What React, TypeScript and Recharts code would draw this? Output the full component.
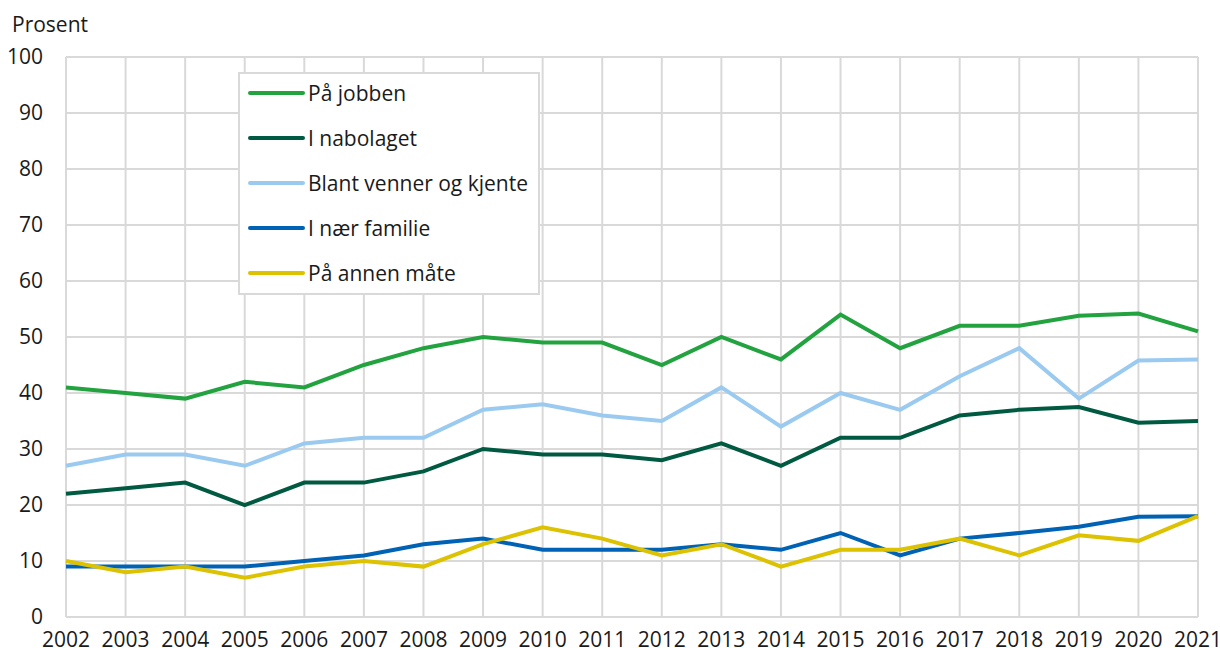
import { CartesianGrid, Legend, Line, LineChart, XAxis, YAxis } from "recharts";

const years = [
  "2002", "2003", "2004", "2005", "2006", "2007", "2008", "2009", "2010", "2011",
  "2012", "2013", "2014", "2015", "2016", "2017", "2018", "2019", "2020", "2021",
];

const paaJobben = [41, 40, 39, 42, 41, 45, 48, 50, 49, 49, 45, 50, 46, 54, 48, 52, 52, 53.8, 54.2, 51];
const iNabolaget = [22, 23, 24, 20, 24, 24, 26, 30, 29, 29, 28, 31, 27, 32, 32, 36, 37, 37.5, 34.7, 35];
const blantVenner = [27, 29, 29, 27, 31, 32, 32, 37, 38, 36, 35, 41, 34, 40, 37, 43, 48, 39, 45.8, 46];
const iNaerFamilie = [9, 9, 9, 9, 10, 11, 13, 14, 12, 12, 12, 13, 12, 15, 11, 14, 15, 16.1, 17.9, 18];
const paaAnnenMaate = [10, 8, 9, 7, 9, 10, 9, 13, 16, 14, 11, 13, 9, 12, 12, 14, 11, 14.6, 13.6, 18];

const yTicks = [0, 10, 20, 30, 40, 50, 60, 70, 80, 90, 100];

const series = [
  { key: "jobb", name: "På jobben", color: "#22a33f", values: paaJobben },
  { key: "nabo", name: "I nabolaget", color: "#005a41", values: iNabolaget },
  { key: "venner", name: "Blant venner og kjente", color: "#9bcaf0", values: blantVenner },
  { key: "familie", name: "I nær familie", color: "#0062b4", values: iNaerFamilie },
  { key: "annen", name: "På annen måte", color: "#dcc200", values: paaAnnenMaate },
];

const data = years.map((year, i) => {
  const row: Record<string, string | number> = { year };
  series.forEach((s) => {
    row[s.key] = s.values[i];
  });
  return row;
});

const FONT = "'Open Sans', 'Noto Sans', sans-serif";
const FONT_SIZE = 21;
const textColor = "#1a1a1a";
const gridColor = "#d9d9d9";

function LegendBox() {
  return (
    <div
      style={{
        position: "relative",
        width: 302,
        height: 223,
        boxSizing: "border-box",
        border: `2px solid ${gridColor}`,
        background: "#fff",
        fontFamily: FONT,
        fontSize: FONT_SIZE,
        color: textColor,
      }}
    >
      {series.map((s, i) => (
        <div
          key={s.key}
          style={{
            position: "absolute",
            left: 8,
            top: 19 + i * 45 - 15,
            height: 30,
            display: "flex",
            alignItems: "center",
            whiteSpace: "nowrap",
          }}
        >
          <svg width={57} height={6} style={{ display: "block" }}>
            <line x1={2} y1={3} x2={55} y2={3} stroke={s.color} strokeWidth={4} strokeLinecap="round" />
          </svg>
          <span style={{ marginLeft: 3, lineHeight: 1 }}>{s.name}</span>
        </div>
      ))}
    </div>
  );
}

export default function App() {
  return (
    <div style={{ position: "absolute", left: 0, top: 0, width: 1220, height: 648, background: "#fff" }}>
      <div
        style={{
          position: "absolute",
          left: 12,
          top: 14,
          fontFamily: FONT,
          fontSize: FONT_SIZE,
          color: textColor,
          lineHeight: 1,
        }}
      >
        Prosent
      </div>
      <LineChart width={1220} height={648} data={data} margin={{ top: 57, right: 22, left: 6, bottom: 0 }}>
        <CartesianGrid stroke={gridColor} strokeWidth={2} />
        <XAxis
          dataKey="year"
          interval={0}
          axisLine={false}
          tickLine={false}
          tickSize={6}
          tickMargin={9}
          height={31}
          tick={{ fill: textColor, fontSize: FONT_SIZE, fontFamily: FONT }}
        />
        <YAxis
          domain={[0, 100]}
          ticks={yTicks}
          width={60}
          axisLine={false}
          tickLine={false}
          tickSize={6}
          tickMargin={17}
          tick={{ fill: textColor, fontSize: FONT_SIZE, fontFamily: FONT }}
        />
        <Legend
          layout="vertical"
          align="center"
          verticalAlign="middle"
          wrapperStyle={{ left: 238, top: 72, width: 302 }}
          content={() => <LegendBox />}
        />
        {series.map((s) => (
          <Line
            key={s.key}
            dataKey={s.key}
            name={s.name}
            stroke={s.color}
            strokeWidth={4}
            dot={false}
            activeDot={false}
            isAnimationActive={false}
          />
        ))}
      </LineChart>
    </div>
  );
}
